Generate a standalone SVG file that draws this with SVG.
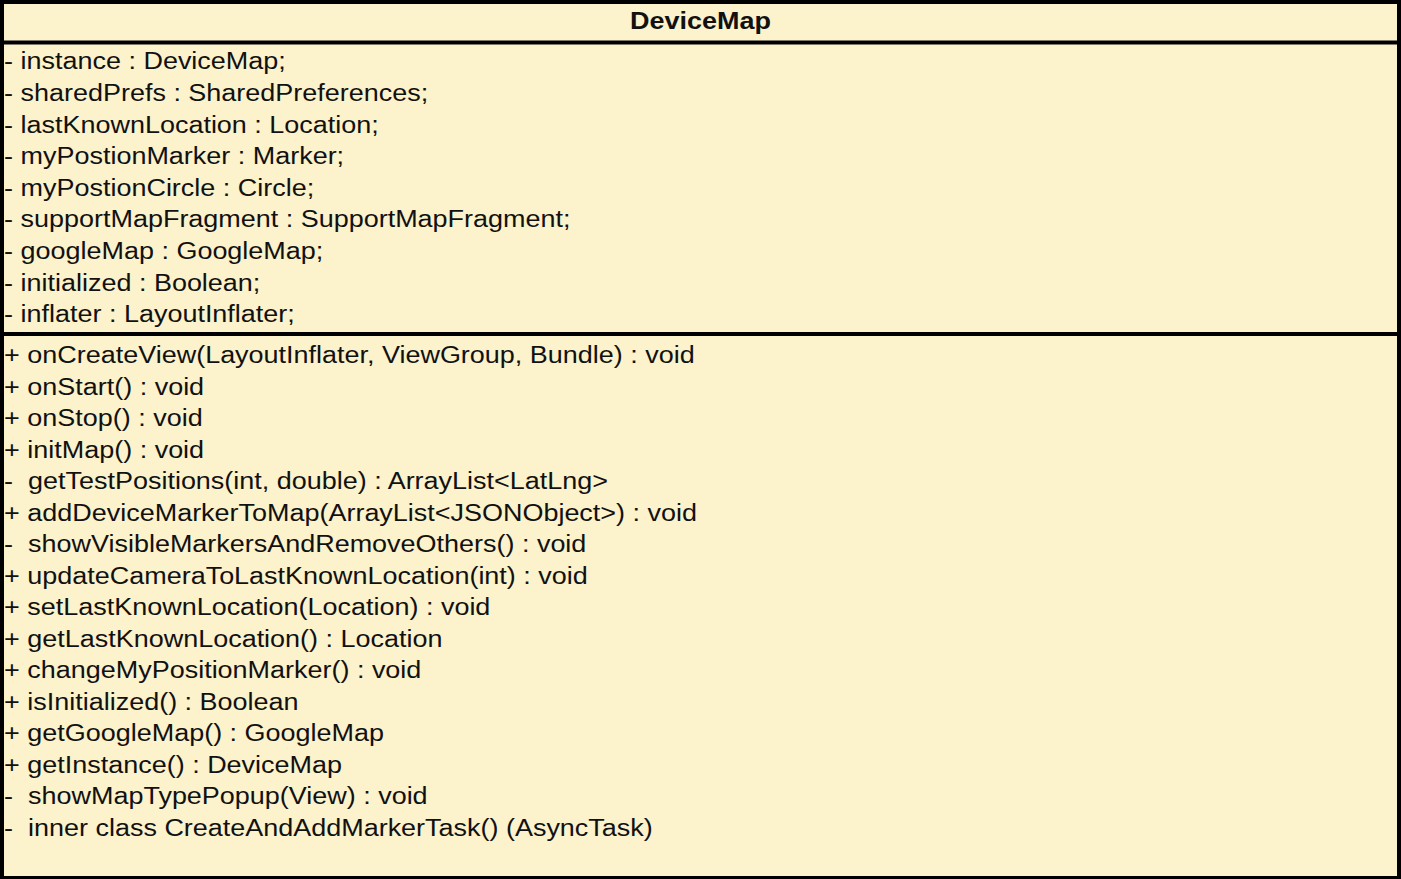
<svg xmlns="http://www.w3.org/2000/svg" width="1401" height="879" viewBox="0 0 1401 879">
<style>
.box{fill:#fcf2cc;stroke:#000;stroke-width:4}
.div{stroke:#000;stroke-width:4}
.t{font-family:"Liberation Sans",Arial,sans-serif;font-size:23px;fill:#111;white-space:pre}
.title{font-weight:bold;text-anchor:middle}
</style>
<rect width="1401" height="879" fill="#ffffff"/>
<g id="DeviceMap">
<rect class="box" x="2" y="2" width="1397" height="876"/>
<line class="div" x1="2" y1="42.5" x2="1399" y2="42.5"/>
<line class="div" x1="2" y1="334" x2="1399" y2="334"/>
<g transform="scale(1.173,1)">
<text class="t title" x="597.2" y="29.5">DeviceMap</text>
<text class="t" x="3.5" y="69.5">- instance : DeviceMap;</text>
<text class="t" x="3.5" y="101.1">- sharedPrefs : SharedPreferences;</text>
<text class="t" x="3.5" y="132.7">- lastKnownLocation : Location;</text>
<text class="t" x="3.5" y="164.3">- myPostionMarker : Marker;</text>
<text class="t" x="3.5" y="195.9">- myPostionCircle : Circle;</text>
<text class="t" x="3.5" y="227.5">- supportMapFragment : SupportMapFragment;</text>
<text class="t" x="3.5" y="259.1">- googleMap : GoogleMap;</text>
<text class="t" x="3.5" y="290.7">- initialized : Boolean;</text>
<text class="t" x="3.5" y="322.3">- inflater : LayoutInflater;</text>
<text class="t" x="3.5" y="363.5">+ onCreateView(LayoutInflater, ViewGroup, Bundle) : void</text>
<text class="t" x="3.5" y="395">+ onStart() : void</text>
<text class="t" x="3.5" y="426.5">+ onStop() : void</text>
<text class="t" x="3.5" y="458">+ initMap() : void</text>
<text class="t" x="3.5" y="489.5" xml:space="preserve">-  getTestPositions(int, double) : ArrayList&lt;LatLng&gt;</text>
<text class="t" x="3.5" y="521">+ addDeviceMarkerToMap(ArrayList&lt;JSONObject&gt;) : void</text>
<text class="t" x="3.5" y="552.5" xml:space="preserve">-  showVisibleMarkersAndRemoveOthers() : void</text>
<text class="t" x="3.5" y="584">+ updateCameraToLastKnownLocation(int) : void</text>
<text class="t" x="3.5" y="615.5">+ setLastKnownLocation(Location) : void</text>
<text class="t" x="3.5" y="647">+ getLastKnownLocation() : Location</text>
<text class="t" x="3.5" y="678.5">+ changeMyPositionMarker() : void</text>
<text class="t" x="3.5" y="710">+ isInitialized() : Boolean</text>
<text class="t" x="3.5" y="741.5">+ getGoogleMap() : GoogleMap</text>
<text class="t" x="3.5" y="773">+ getInstance() : DeviceMap</text>
<text class="t" x="3.5" y="804.5" xml:space="preserve">-  showMapTypePopup(View) : void</text>
<text class="t" x="3.5" y="836" xml:space="preserve">-  inner class CreateAndAddMarkerTask() (AsyncTask)</text>
</g>
</g>
<g id="connectors"/>
</svg>
